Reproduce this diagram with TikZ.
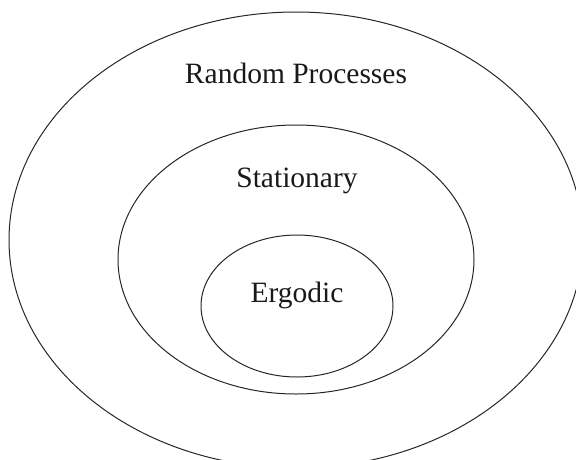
\documentclass[tikz,border=0pt]{standalone}
\usepackage{fontspec}
\setmainfont{Liberation Serif}
\usetikzlibrary{shapes.geometric}
\begin{document}
\begin{tikzpicture}[x=1pt,y=-1pt,
  setbox/.style={draw=black!85,line width=1pt,ellipse,inner sep=0pt,outer sep=0pt},
  setlabel/.style={anchor=base,inner sep=0pt,font=\fontsize{29.5pt}{34pt}\selectfont,text=black!90}]
  \useasboundingbox (0,0) rectangle (576,459);
  \clip (0,0) rectangle (576,459);
  % nested sets of processes
  \node[setbox,minimum width=574pt,minimum height=456pt] (outer) at (296,240) {};
  \node[setbox,minimum width=356pt,minimum height=269pt] (middle) at (296,259.5) {};
  \node[setbox,minimum width=192pt,minimum height=142pt] (inner) at (297,306) {};
  % labels
  \node[setlabel] (lrandom) at (296,83) {Random Processes};
  \node[setlabel] (lstat) at (297,187) {Stationary};
  \node[setlabel] (lergo) at (297,302) {Ergodic};
\end{tikzpicture}
\end{document}
